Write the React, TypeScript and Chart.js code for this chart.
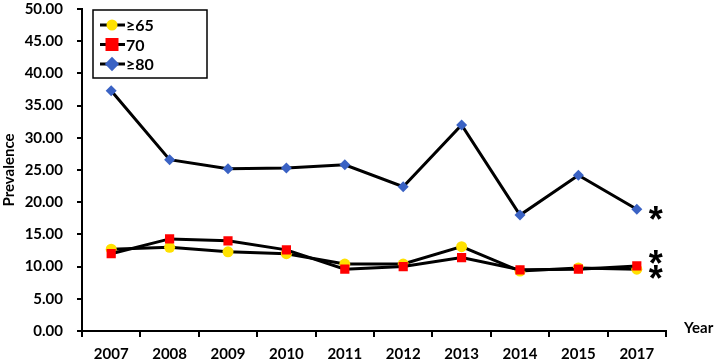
import React, { useEffect, useRef } from "react";
import { Chart, registerables } from "chart.js";

Chart.register(...registerables);

const years = ["2007", "2008", "2009", "2010", "2011", "2012", "2013", "2014", "2015", "2017"];
const age65 = [12.7, 13.0, 12.3, 12.0, 10.4, 10.4, 13.1, 9.3, 9.8, 9.6];
const age70 = [12.0, 14.3, 14.0, 12.6, 9.6, 10.0, 11.4, 9.5, 9.6, 10.1];
const age80 = [37.3, 26.6, 25.2, 25.3, 25.8, 22.4, 32.0, 18.0, 24.2, 18.9];
const seriesNames = ["\u226565", "70", "\u226580"];
const asteriskValues = [18.6, 11.8, 9.5];
const yTicks = [0, 5, 10, 15, 20, 25, 30, 35, 40, 45, 50];

const FONT = "Lato, 'Liberation Sans', sans-serif";

const markerStyles = [
  { pointStyle: "circle", color: "#FFE100", radius: 5.5 },
  { pointStyle: "rect", color: "#FF0000", radius: 6.5 },
  { pointStyle: "rectRot", color: "#3A62C4", radius: 5.5 },
];

const extrasPlugin = {
  id: "extras",
  afterDraw(chart: any) {
    const ctx = chart.ctx;
    const x = chart.scales.x;
    const y = chart.scales.y;
    ctx.save();
    ctx.strokeStyle = "#000";
    ctx.lineWidth = 1.5;
    ctx.strokeRect(93, 10, 114, 68);
    seriesNames.forEach((name, i) => {
      const cy = 25 + i * 19.5;
      ctx.strokeStyle = "#000";
      ctx.lineWidth = 3;
      ctx.beginPath();
      ctx.moveTo(100, cy);
      ctx.lineTo(125, cy);
      ctx.stroke();
      const m = markerStyles[i];
      ctx.fillStyle = m.color;
      ctx.beginPath();
      if (m.pointStyle === "circle") {
        ctx.arc(112, cy, m.radius, 0, Math.PI * 2);
      } else if (m.pointStyle === "rect") {
        ctx.rect(112 - m.radius, cy - m.radius, m.radius * 2, m.radius * 2);
      } else {
        ctx.moveTo(112, cy - m.radius * 1.3);
        ctx.lineTo(112 + m.radius * 1.3, cy);
        ctx.lineTo(112, cy + m.radius * 1.3);
        ctx.lineTo(112 - m.radius * 1.3, cy);
        ctx.closePath();
      }
      ctx.fill();
      ctx.fillStyle = "#000";
      ctx.font = `bold 16px ${FONT}`;
      ctx.textAlign = "left";
      ctx.textBaseline = "middle";
      ctx.fillText(name, 126, cy + 1);
    });
    const lastX = x.getPixelForValue(years.length - 1);
    ctx.font = `bold 36px 'Liberation Sans', sans-serif`;
    ctx.textAlign = "center";
    ctx.textBaseline = "middle";
    asteriskValues.forEach((v) => {
      ctx.fillText("*", lastX + 19, y.getPixelForValue(v) + 11);
    });
    ctx.font = `bold 15px ${FONT}`;
    ctx.textAlign = "left";
    ctx.fillText("Year", x.right + 18, x.top - 3);
    ctx.restore();
  },
};

export default function App() {
  const ref = useRef<HTMLCanvasElement>(null);
  useEffect(() => {
    if (!ref.current) return;
    const mk = (label: string, data: number[], i: number) => ({
      label,
      data,
      borderColor: "#000",
      borderWidth: 3,
      pointStyle: markerStyles[i].pointStyle,
      pointRadius: markerStyles[i].radius,
      pointBackgroundColor: markerStyles[i].color,
      pointBorderColor: markerStyles[i].color,
      pointBorderWidth: 0,
      tension: 0,
    });
    const chart = new Chart(ref.current, {
      type: "line",
      data: {
        labels: years,
        datasets: [mk(seriesNames[1], age70, 1), mk(seriesNames[0], age65, 0), mk(seriesNames[2], age80, 2)],
      },
      plugins: [extrasPlugin],
      options: {
        animation: false,
        responsive: false,
        layout: { padding: { top: 9, right: 54, left: 0, bottom: 0 } },
        plugins: { legend: { display: false }, tooltip: { enabled: false } },
        scales: {
          x: {
            offset: true,
            grid: { offset: true, drawOnChartArea: false, drawTicks: true, tickLength: 6, color: "#000", lineWidth: 2 },
            border: { display: true, color: "#000", width: 2 },
            ticks: { color: "#000", font: { family: FONT, size: 15, weight: "bold" }, padding: 8, maxRotation: 0 },
            afterFit(s: any) {
              s.height = 33;
              s.paddingLeft = 0;
              s.paddingRight = 0;
            },
          },
          y: {
            min: 0,
            max: 50,
            afterBuildTicks(s: any) {
              s.ticks = yTicks.map((v) => ({ value: v }));
            },
            grid: { drawOnChartArea: false, drawTicks: true, tickLength: 5, color: "#000", lineWidth: 2 },
            border: { display: true, color: "#000", width: 2 },
            ticks: {
              color: "#000",
              font: { family: FONT, size: 15, weight: "bold" },
              padding: 14,
              callback: (v: any) => Number(v).toFixed(2),
            },
            title: {
              display: true,
              text: "Prevalence",
              color: "#000",
              font: { family: FONT, size: 15, weight: "bold" },
              padding: { top: 0, bottom: 0 },
            },
            afterFit(s: any) {
              s.width = 82;
              s.paddingTop = 0;
              s.paddingBottom = 0;
            },
          },
        },
      },
    });
    return () => chart.destroy();
  }, []);
  return (
    <div style={{ position: "fixed", left: 0, top: 0, width: 720, height: 364, background: "#fff" }}>
      <canvas ref={ref} width={720} height={364} style={{ display: "block" }} />
    </div>
  );
}
